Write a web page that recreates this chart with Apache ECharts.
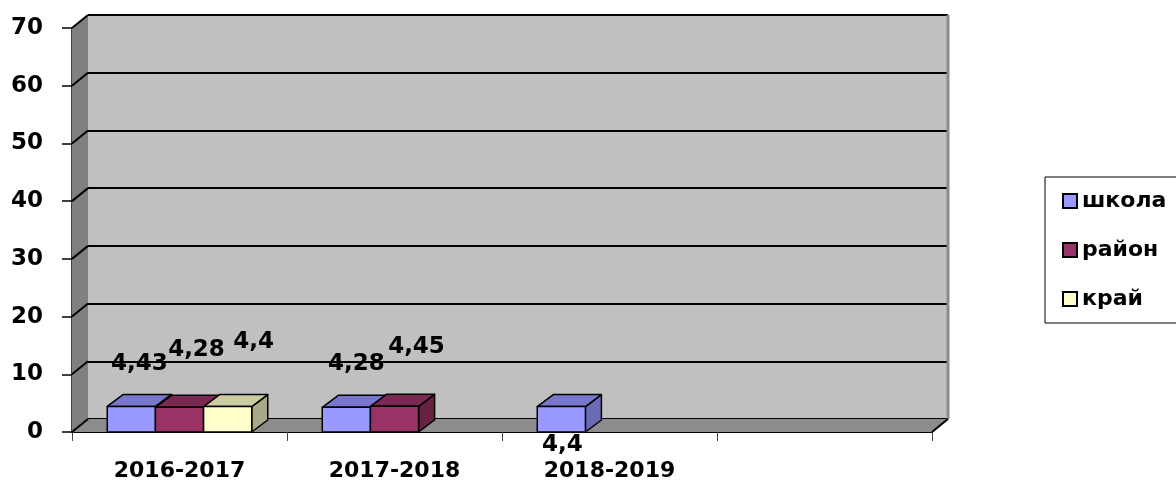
<!DOCTYPE html>
<html>
<head>
<meta charset="utf-8">
<script src="https://cdn.jsdelivr.net/npm/echarts@6/dist/echarts.min.js"></script>
<style>
  html, body { margin: 0; padding: 0; background: #fff; }
  #chart { width: 1176px; height: 484px; }
</style>
</head>
<body>
<div id="chart"></div>
<script>
// data
var categories = ["2016-2017", "2017-2018", "2018-2019", ""];
var seriesNames = ["школа", "район", "край"];
var shkola = [4.43, 4.28, 4.4, null];
var raion = [4.28, 4.45, null, null];
var krai = [4.4, null, null, null];
var yTicks = [0, 10, 20, 30, 40, 50, 60, 70];

// styles
var FONT = '"DejaVu Sans", sans-serif';
var DX = 16, DY = 13;       // wall depth
var BDX = 16, BDY = 12;     // bar depth
var BAR_FRAC = 0.224;
var palette = [
  { front: "#9999FF", top: "#7777CC", side: "#6B6BB3" },
  { front: "#993366", top: "#7A2952", side: "#662240" },
  { front: "#FFFFCC", top: "#CCCCA3", side: "#A8A88A" }
];
// label offset from bar top centre, per series / category
var labelOffsets = [
  [[8, -42], [10, -43], [1, 38], [0, 0]],
  [[17, -57], [22, -59], [0, 0], [0, 0]],
  [[26, -65], [0, 0], [0, 0], [0, 0]]
];

function toData(arr) {
  var out = [];
  arr.forEach(function (v, i) {
    if (v != null) out.push([i, v]);
  });
  return out;
}

function barRender(s) {
  return function (params, api) {
    var cat = api.value(0), val = api.value(1);
    var base = api.coord([cat, 0]);
    var top = api.coord([cat, val]);
    var w = api.size([1, 0])[0] * BAR_FRAC;
    var x0 = base[0] - 1.5 * w + s * w;
    var x1 = x0 + w;
    var yb = base[1], yt = top[1];
    var c = palette[s];
    var off = labelOffsets[s][cat];
    var edge = { stroke: "#000", lineWidth: 1.5, lineJoin: "round" };
    return {
      type: "group",
      children: [
        { type: "polygon", shape: { points: [[x1, yt], [x1 + BDX, yt - BDY], [x1 + BDX, yb - BDY], [x1, yb]] },
          style: Object.assign({ fill: c.side }, edge) },
        { type: "polygon", shape: { points: [[x0, yt], [x0 + BDX, yt - BDY], [x1 + BDX, yt - BDY], [x1, yt]] },
          style: Object.assign({ fill: c.top }, edge) },
        { type: "rect", shape: { x: x0, y: yt, width: w, height: yb - yt },
          style: Object.assign({ fill: c.front }, edge) },
        { type: "text", style: {
            text: String(val).replace(".", ","),
            x: (x0 + x1) / 2 + off[0], y: yt + off[1],
            fill: "#000", font: "bold 23px " + FONT,
            align: "center", verticalAlign: "middle" } }
      ]
    };
  };
}

function frameRender(params, api) {
  var cs = params.coordSys;
  var v = api.value(1);
  var y = api.coord([0, v])[1];
  var children = [];
  if (params.dataIndex === 0) {
    var x = cs.x, w = cs.width, t = cs.y, b = cs.y + cs.height;
    children.push(
      { type: "polygon", shape: { points: [[x, t], [x + DX, t - DY], [x + DX, b - DY], [x, b]] },
        style: { fill: "#808080" } },
      { type: "polygon", shape: { points: [[x, b], [x + DX, b - DY], [x + w + DX, b - DY], [x + w, b]] },
        style: { fill: "#8C8C8C" } },
      { type: "line", shape: { x1: x + w + DX, y1: t - DY, x2: x + w + DX, y2: b - DY },
        style: { stroke: "#8C8C8C", lineWidth: 3 } },
      { type: "line", shape: { x1: x + w, y1: b, x2: x + w + DX, y2: b - DY },
        style: { stroke: "#000", lineWidth: 2 } }
    );
  }
  children.push({ type: "line", shape: { x1: cs.x, y1: y, x2: cs.x + DX, y2: y - DY },
    style: { stroke: "#000", lineWidth: 2 } });
  return { type: "group", children: children };
}

var chart = echarts.init(document.getElementById("chart"));

var option = {
  animation: false,
  backgroundColor: "#fff",
  grid: [
    { left: 72, right: 244, top: 28, bottom: 52 },
    { left: 88, right: 228, top: 15, bottom: 65, show: true, backgroundColor: "#C0C0C0", borderWidth: 0, z: 0 }
  ],
  legend: {
    orient: "vertical",
    left: 1045, top: 177,
    padding: [12, 40, 12, 17],
    borderColor: "#000", borderWidth: 1,
    itemWidth: 14, itemHeight: 14, itemGap: 25,
    icon: "rect",
    itemStyle: { borderColor: "#000", borderWidth: 2 },
    textStyle: { fontSize: 22, fontWeight: "bold", fontFamily: FONT, color: "#000", lineHeight: 24 },
    data: seriesNames
  },
  xAxis: [
    {
      gridIndex: 0, type: "category", data: categories,
      axisLine: { lineStyle: { color: "#000", width: 2 } },
      axisTick: { show: true, length: 9, lineStyle: { color: "#444", width: 1 } },
      axisLabel: { color: "#000", fontSize: 22, fontWeight: "bold", fontFamily: FONT, margin: 28, interval: 0 },
      splitLine: { show: false }
    },
    {
      gridIndex: 1, type: "category", data: categories, show: false
    }
  ],
  yAxis: [
    {
      gridIndex: 0, type: "value", min: 0, max: 70, interval: 10,
      axisLine: { show: true, lineStyle: { color: "#000", width: 1.5 } },
      axisTick: { show: true, length: 10, lineStyle: { color: "#000", width: 1.5 } },
      axisLabel: { color: "#000", fontSize: 23, fontWeight: "bold", fontFamily: FONT, margin: 29 },
      splitLine: { show: false }
    },
    {
      gridIndex: 1, type: "value", min: 0, max: 70, interval: 10,
      axisLine: { show: false }, axisTick: { show: false }, axisLabel: { show: false },
      splitLine: { show: true, lineStyle: { color: "#000", width: 2 } }
    }
  ],
  series: [
    {
      name: "frame", type: "custom", xAxisIndex: 0, yAxisIndex: 0, z: 1, silent: true,
      renderItem: frameRender,
      data: yTicks.map(function (v) { return [0, v]; })
    },
    { name: seriesNames[0], type: "custom", z: 3, renderItem: barRender(0), itemStyle: { color: palette[0].front }, data: toData(shkola) },
    { name: seriesNames[1], type: "custom", z: 3, renderItem: barRender(1), itemStyle: { color: palette[1].front }, data: toData(raion) },
    { name: seriesNames[2], type: "custom", z: 3, renderItem: barRender(2), itemStyle: { color: palette[2].front }, data: toData(krai) }
  ]
};

chart.setOption(option);
</script>
</body>
</html>
